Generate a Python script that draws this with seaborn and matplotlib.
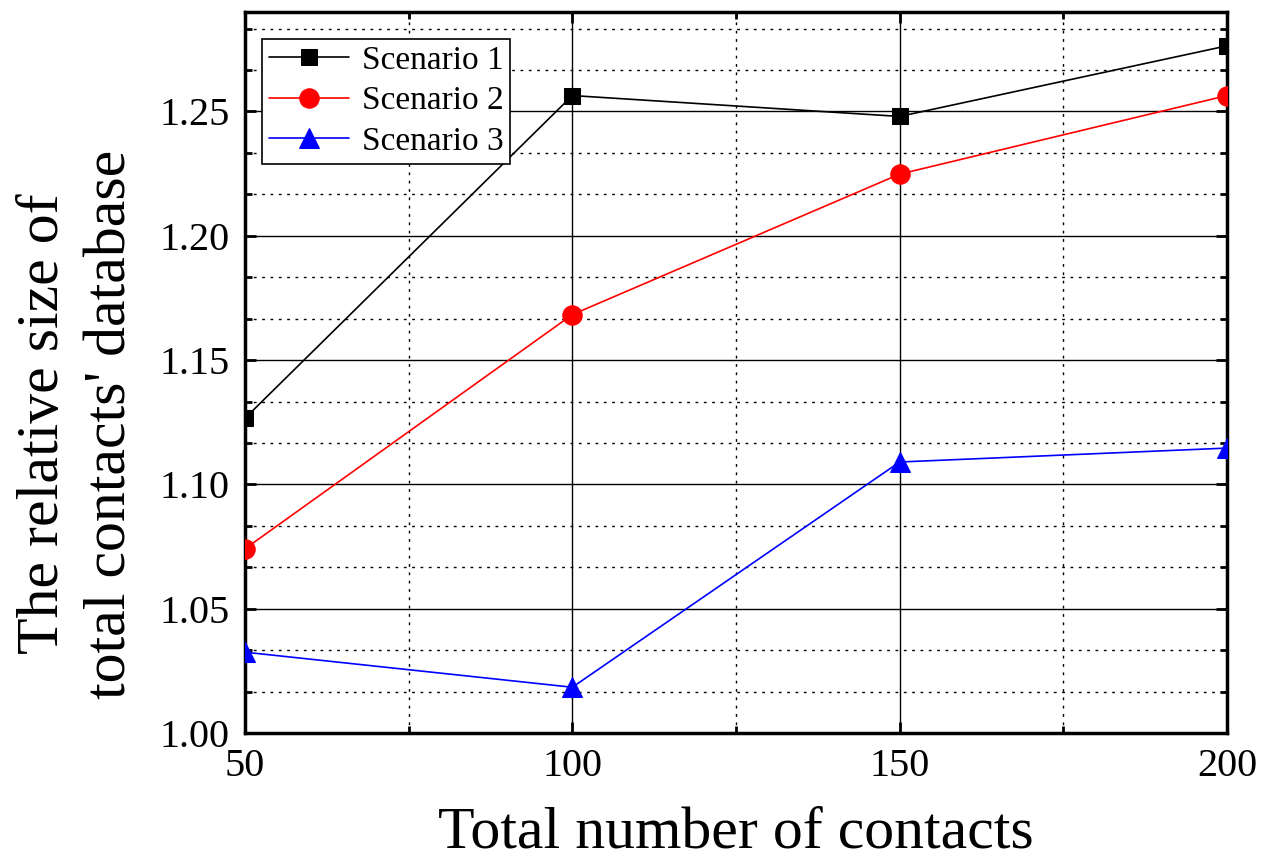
import matplotlib
matplotlib.use('Agg')
import matplotlib.pyplot as plt
from matplotlib.ticker import MultipleLocator, FormatStrFormatter
import seaborn as sns
import pandas as pd

# dados
contatos = [50, 100, 150, 200]
cenario_1 = [1.1266, 1.2564, 1.2480, 1.2764]
cenario_2 = [1.0741, 1.1683, 1.2248, 1.2564]
cenario_3 = [1.0325, 1.0184, 1.1090, 1.1146]
nomes = ['Scenario 1', 'Scenario 2', 'Scenario 3']

sns.set_style('ticks')
plt.rcParams['font.family'] = ['Liberation Serif', 'DejaVu Serif']
for k in ['text.color', 'axes.labelcolor', 'xtick.color', 'ytick.color']:
    plt.rcParams[k] = 'black'

df = pd.DataFrame({'x': contatos, 's1': cenario_1, 's2': cenario_2, 's3': cenario_3})

fig = plt.figure(figsize=(12.76, 8.59), dpi=100)
ax = fig.add_axes([0.192, 0.1467, 0.7696, 0.8393])

estilos = [('s1', 'black', 's', 12), ('s2', 'red', 'o', 14), ('s3', 'blue', '^', 15)]
for (col, cor, mk, ms), nome in zip(estilos, nomes):
    sns.lineplot(data=df, x='x', y=col, ax=ax, color=cor, marker=mk, markersize=ms,
                 markeredgecolor=cor, linewidth=1.2, label=nome, zorder=5)

ax.set_xlim(50, 200)
ax.set_ylim(1.00, 1.29)
ax.xaxis.set_major_locator(MultipleLocator(50))
ax.xaxis.set_minor_locator(MultipleLocator(25))
ax.yaxis.set_major_locator(MultipleLocator(0.05))
ax.yaxis.set_minor_locator(MultipleLocator(0.05 / 3))
ax.yaxis.set_major_formatter(FormatStrFormatter('%.2f'))

ax.grid(which='major', color='black', linestyle='-', linewidth=1.0)
ax.grid(which='minor', color='black', linestyle=(0, (2, 4)), linewidth=1.0)
ax.set_axisbelow(True)

ax.tick_params(which='both', direction='in', top=True, right=True, width=2)
ax.tick_params(which='major', length=8, labelsize=29, pad=11)
ax.tick_params(which='minor', length=5)
for s in ax.spines.values():
    s.set_linewidth(2.5)
    s.set_color('black')

ax.set_xlabel('Total number of contacts', fontsize=43, labelpad=15)
ax.set_ylabel("The relative size of\ntotal contacts' database", fontsize=43, linespacing=1.35)
ax.yaxis.set_label_coords(-0.108, 0.4286)

leg = ax.legend(loc='upper left', bbox_to_anchor=(0.0173, 0.963), fontsize=24, frameon=True,
                fancybox=False, edgecolor='black', framealpha=1, borderpad=0.2,
                handlelength=2.4, handletextpad=0.4, labelspacing=0.3, borderaxespad=0)
leg.get_frame().set_linewidth(1.2)

fig.savefig('out.png', dpi=100)
